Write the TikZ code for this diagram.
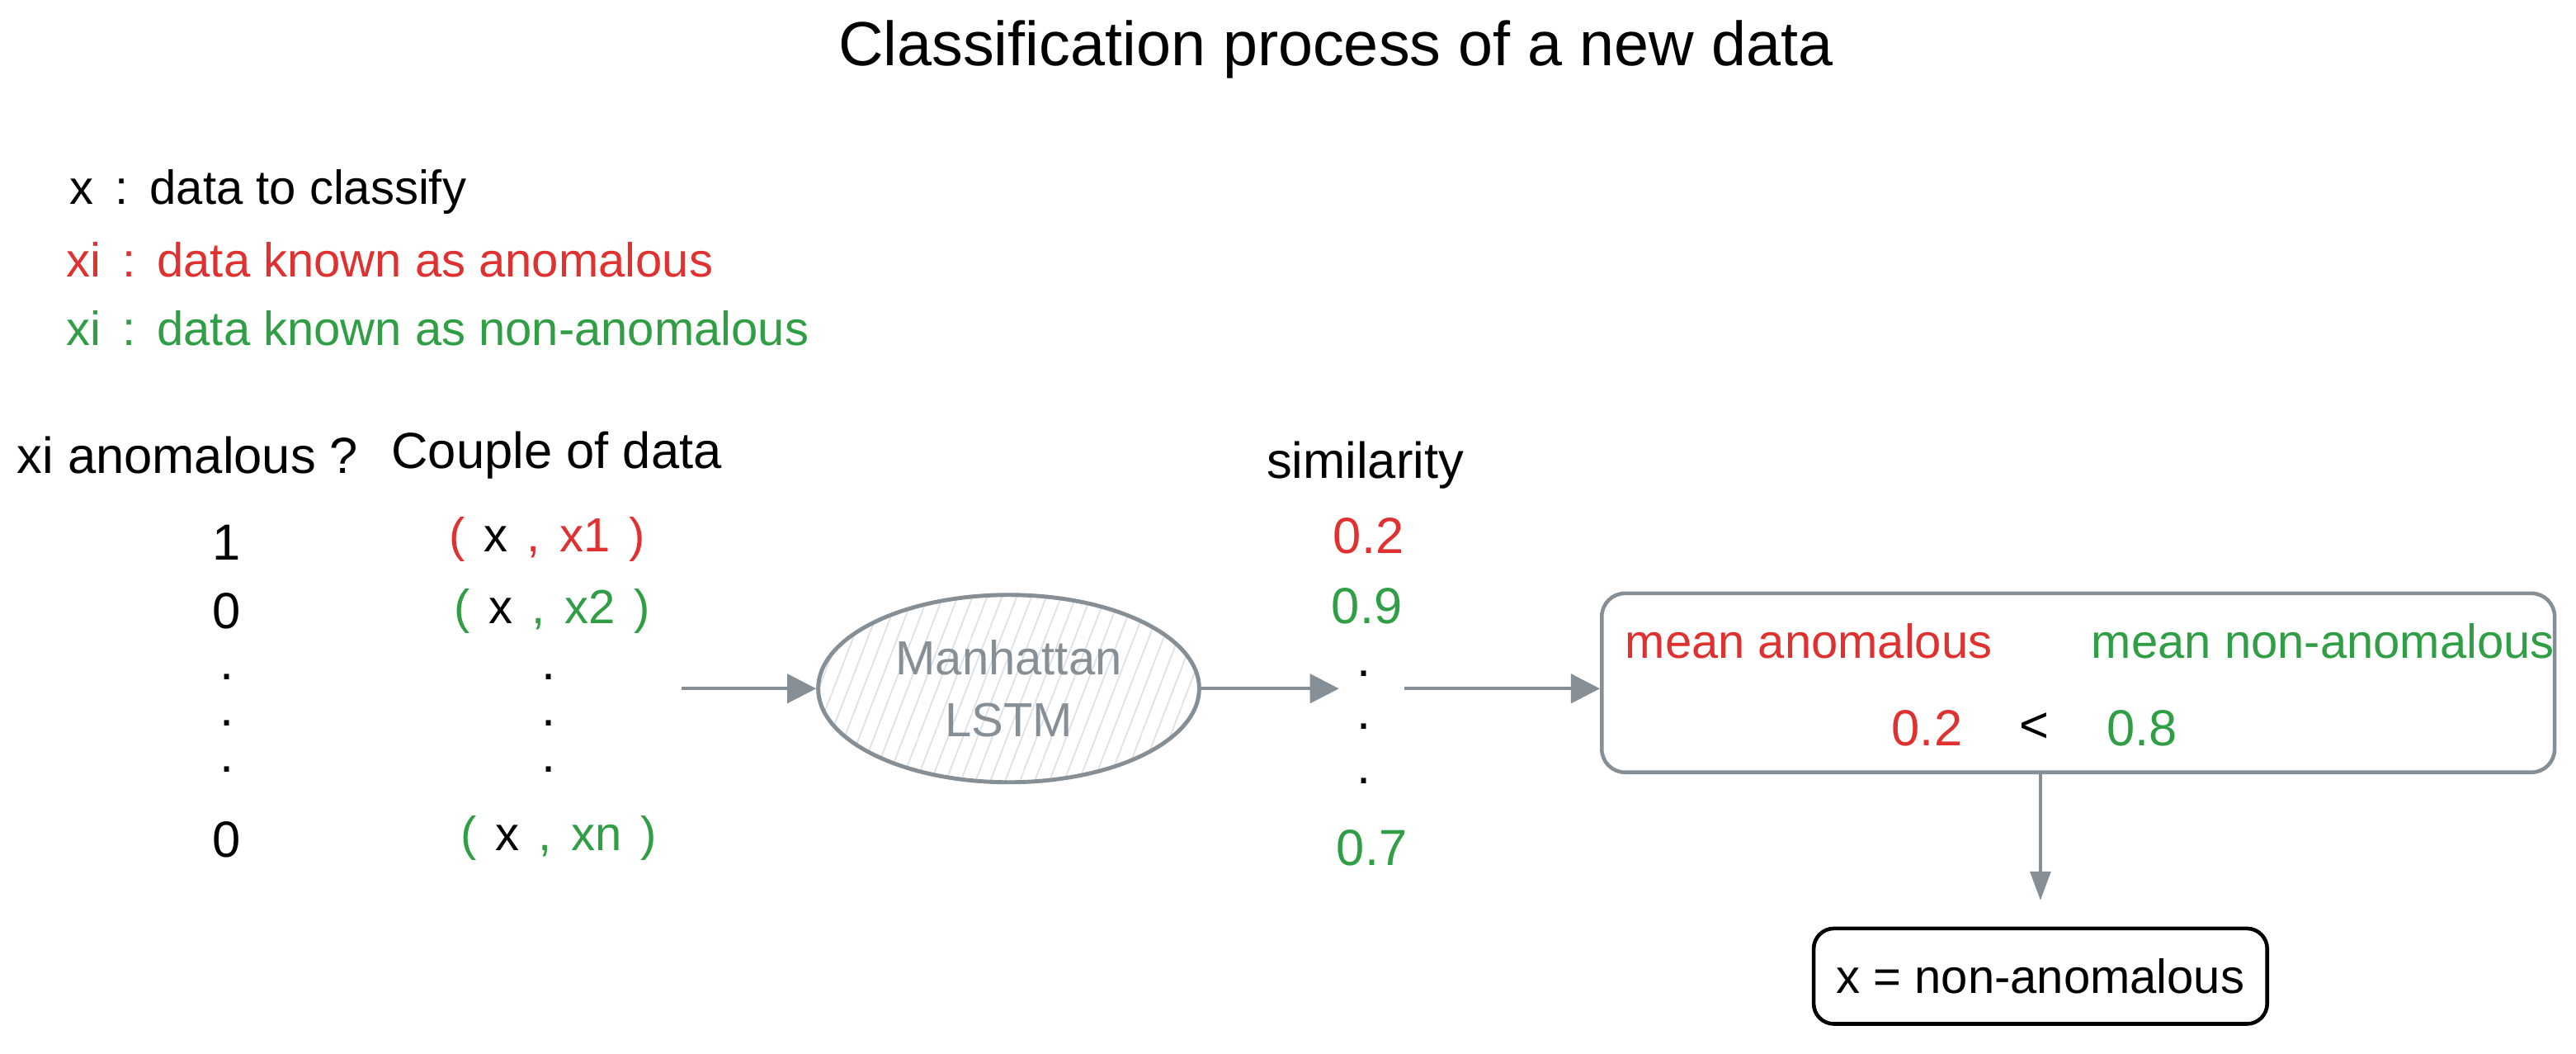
\documentclass[tikz,border=0pt]{standalone}
\usepackage{fontspec}
\setmainfont{Liberation Sans}
\usetikzlibrary{arrows.meta,shapes.geometric}
\definecolor{xred}{HTML}{E03131}
\definecolor{xgreen}{HTML}{2F9E44}
\definecolor{xgrey}{HTML}{868E96}
\definecolor{xhatch}{HTML}{DEE2E6}
\newcommand{\gp}{\hspace{0.4em}}
\newcommand{\cg}{\hspace{0.45em}:\hspace{0.45em}}
\begin{document}
\begin{tikzpicture}[x=0.01991cm,y=-0.01991cm,
  txt/.style={font=\fontsize{16.5}{21.5}\selectfont, inner sep=0pt},
  big/.style={font=\fontsize{17.5}{21.5}\selectfont, inner sep=0pt},
  ttl/.style={font=\fontsize{21.5}{26}\selectfont, inner sep=0pt},
  conn/.style={draw=xgrey, line width=1.2pt, -{Triangle[length=10pt,width=10pt]}},
  frame/.style={line width=1.3pt, rounded corners=8pt, inner sep=0pt}]
\useasboundingbox (0,0) rectangle (1568,641);

% title
\node[ttl] (title) at (813,30) {Classification process of a new data};

% legend
\node[txt, anchor=west] (leg1) at (42,117) {x\cg data to classify};
\node[txt, anchor=west, text=xred] (leg2) at (40,158) {xi\cg data known as anomalous};
\node[txt, anchor=west, text=xgreen] (leg3) at (40,200) {xi\cg data known as non-anomalous};

% headers
\node[big, anchor=west] (h1) at (10,277) {xi anomalous ?};
\node[big, anchor=west] (h2) at (238,277) {Couple of data};
\node[big] (h3) at (831,283) {similarity};

% column 1
\node[big] (c1a) at (138,330) {1};
\node[big] (c1b) at (138,372) {0};
\node[big] (c1d1) at (138,412) {.};
\node[big] (c1d2) at (138,440) {.};
\node[big] (c1d3) at (138,468) {.};
\node[big] (c1n) at (138,511) {0};

% column 2
\node[txt] (c2a) at (333,328) {\textcolor{xred}{(}\gp x\gp\textcolor{xred}{,}\gp\textcolor{xred}{x1}\gp\textcolor{xred}{)}};
\node[txt] (c2b) at (336,372) {\textcolor{xgreen}{(}\gp x\gp\textcolor{xgreen}{,}\gp\textcolor{xgreen}{x2}\gp\textcolor{xgreen}{)}};
\node[big] (c2d1) at (334,412) {.};
\node[big] (c2d2) at (334,440) {.};
\node[big] (c2d3) at (334,468) {.};
\node[txt] (c2n) at (340,510) {\textcolor{xgreen}{(}\gp x\gp\textcolor{xgreen}{,}\gp\textcolor{xgreen}{xn}\gp\textcolor{xgreen}{)}};

% similarity values
\node[big, text=xred] (s1) at (833,326) {0.2};
\node[big, text=xgreen] (s2) at (832,369) {0.9};
\node[big] (sd1) at (830,410) {.};
\node[big] (sd2) at (830,442) {.};
\node[big] (sd3) at (830,475) {.};
\node[big, text=xgreen] (sn) at (835,516) {0.7};

% Manhattan LSTM
\begin{scope}
  \clip (614,419) ellipse [x radius=116, y radius=57];
  \foreach \i in {430,439,...,760}
    \draw[xhatch, line width=0.5pt] (\i,480) -- ++(48,-125);
\end{scope}
\node[ellipse, draw=xgrey, line width=1.4pt, minimum width=131.4pt, minimum height=64.6pt, inner sep=0pt] (lstm) at (614,419) {};
\node[txt, text=xgrey, align=center] (lstmtxt) at (lstm) {Manhattan\\LSTM};

% comparison box
\node[frame, draw=xgrey, minimum width=328.6pt, minimum height=61.7pt] (box) at (1265,415.5) {};
\node[txt, text=xred] (ma) at (1101,390) {mean anomalous};
\node[txt, text=xgreen] (mn) at (1414,390) {mean non-anomalous};
\node[big, text=xred] (v1) at (1173,443) {0.2};
\node[big] (lt) at (1238,443) {<};
\node[big, text=xgreen] (v2) at (1304,443) {0.8};

% result box
\node[frame, draw=black, rounded corners=7pt, minimum width=156.4pt, minimum height=32.9pt] (res) at (1242,594) {};
\node[txt] (restxt) at (res) {x = non-anomalous};

% connectors
\coordinate (a1s) at (415,419);
\coordinate (a2e) at (815,419);
\coordinate (a3s) at (855,419);
\draw[conn] (a1s) -- (lstm.west);
\draw[conn] (lstm.east) -- (a2e);
\draw[conn] (a3s) -- (a3s -| box.west);
\draw[conn, -{Triangle[length=10pt,width=7pt]}, shorten >=9pt] (res.north |- box.south) -- (res.north);
\end{tikzpicture}
\end{document}
